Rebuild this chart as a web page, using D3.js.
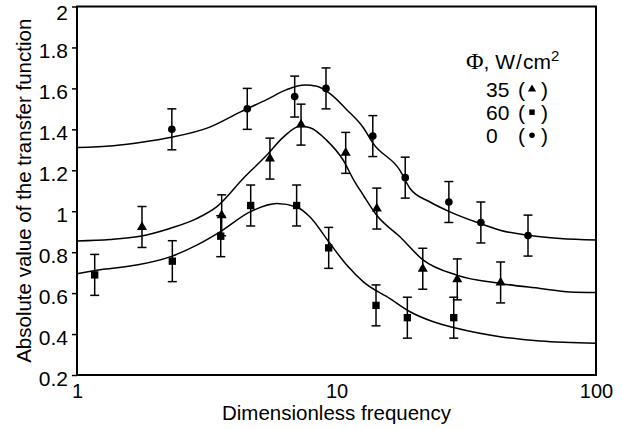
<!DOCTYPE html>
<html>
<head>
<meta charset="utf-8">
<script src="https://cdn.jsdelivr.net/npm/d3@7"></script>
<style>
  html, body { margin: 0; padding: 0; background: #fff; }
  svg { display: block; }
  text { font-family: "Liberation Sans", Arial, Helvetica, sans-serif; fill: #000; }
</style>
</head>
<body>
<svg id="chart" width="622" height="429"></svg>
<script>
// ---------- data ----------
const xTicks = [1, 10, 100];
const yTicks = [0.2, 0.4, 0.6, 0.8, 1, 1.2, 1.4, 1.6, 1.8, 2];
const xTickLabels = ["1", "10", "100"];
const yTickLabels = ["0.2", "0.4", "0.6", "0.8", "1", "1.2", "1.4", "1.6", "1.8", "2"];

// measured points (Φ = 0 W/cm², circles)
const circX = [2.32, 4.53, 6.9, 9.11, 13.8, 18.4, 27.1, 36.0, 54.7];
const circY = [1.40, 1.50, 1.56, 1.60, 1.367, 1.164, 1.045, 0.945, 0.881];
// Φ = 35 W/cm², triangles
const triX = [1.78, 3.61, 5.54, 7.3, 10.85, 14.3, 21.5, 29.2, 42.9];
const triY = [0.923, 0.98, 1.257, 1.423, 1.285, 1.013, 0.719, 0.667, 0.652];
// Φ = 60 W/cm², squares
const sqX = [1.17, 2.33, 3.58, 4.67, 7.02, 9.33, 14.2, 18.75, 28.3];
const sqY = [0.689, 0.756, 0.878, 1.028, 1.028, 0.821, 0.54, 0.48, 0.48];
// error half-width
const errHalf = 0.1;

// fitted curves
const circCurveX = [1, 1.38, 1.80, 2.28, 3.25, 4.25, 5.38, 6.43, 7.56, 8.39, 9.44, 10.95, 12.69, 13.86, 17.56, 19.2, 22.93, 27.37, 35.73, 42.67, 55.68, 72.66, 100];
const circCurveY = [1.311, 1.320, 1.338, 1.360, 1.411, 1.484, 1.545, 1.594, 1.616, 1.610, 1.574, 1.496, 1.408, 1.330, 1.200, 1.111, 1.045, 0.997, 0.940, 0.907, 0.881, 0.867, 0.859];
const triCurveX = [1, 1.34, 1.75, 2.28, 2.89, 3.45, 4.37, 5.38, 6.24, 7.23, 7.91, 9.17, 10.62, 11.61, 12.69, 14.29, 17.56, 21.6, 29.05, 42.67, 60.84, 79.4, 100];
const triCurveY = [0.855, 0.862, 0.878, 0.916, 0.964, 1.021, 1.160, 1.273, 1.362, 1.415, 1.408, 1.346, 1.249, 1.156, 1.078, 0.980, 0.875, 0.761, 0.688, 0.647, 0.623, 0.606, 0.603];
const sqCurveX = [1, 1.263, 1.698, 2.283, 2.893, 3.557, 4.642, 5.884, 7.024, 7.906, 9.441, 10.95, 12.69, 16.08, 19.2, 23.61, 29.05, 42.67, 60.84, 100];
const sqCurveY = [0.695, 0.716, 0.737, 0.777, 0.834, 0.899, 0.997, 1.038, 1.021, 0.972, 0.842, 0.737, 0.655, 0.573, 0.509, 0.460, 0.428, 0.387, 0.366, 0.355];

const legendTitle = "Φ, W/cm";
const legendLabels = ["35", "60", "0"];
const legendSymbols = ["triangle", "square", "circle"];

const xTitle = "Dimensionless frequency";
const yTitle = "Absolute value of the transfer function";

// ---------- drawing ----------
const svg = d3.select("#chart");
const L = 77, R = 596, T = 6.5, B = 375;
const x = d3.scaleLog().domain([1, 100]).range([L, R]);
const y = d3.scaleLinear().domain([0.2, 2]).range([B, T]);

// y axis ticks (outward)
const yAxis = d3.axisLeft(y).tickValues(yTicks).tickSize(5).tickPadding(4)
  .tickFormat((d, i) => yTickLabels[i]);
const gy = svg.append("g").attr("transform", `translate(${L},0)`).call(yAxis);
gy.select(".domain").remove();
gy.selectAll("line").attr("stroke", "#000").attr("stroke-width", 1.5);
gy.selectAll("text").attr("font-size", 21)
  .attr("dy", d => d === 2 ? "0.6em" : "0.48em")
  .style("font-family", '"Liberation Sans", Arial, sans-serif');

// x axis labels (no tick marks)
const xAxis = d3.axisBottom(x).tickValues(xTicks).tickSize(0).tickPadding(9)
  .tickFormat((d, i) => xTickLabels[i]);
const gx = svg.append("g").attr("transform", `translate(0,${B})`).call(xAxis);
gx.select(".domain").remove();
gx.selectAll("text").attr("font-size", 20)
  .style("font-family", '"Liberation Sans", Arial, sans-serif');

// frame
svg.append("rect").attr("x", L).attr("y", T).attr("width", R - L).attr("height", B - T)
  .attr("fill", "none").attr("stroke", "#000").attr("stroke-width", 2);

// curves
const line = d3.line().x(d => x(d[0])).y(d => y(d[1])).curve(d3.curveMonotoneX);
[[circCurveX, circCurveY], [triCurveX, triCurveY], [sqCurveX, sqCurveY]].forEach(([cx, cy]) => {
  svg.append("path").datum(cx.map((v, i) => [v, cy[i]]))
    .attr("d", line).attr("fill", "none").attr("stroke", "#000").attr("stroke-width", 1.5);
});

// error bars & markers
const series = [
  { xs: circX, ys: circY, sym: d3.symbolCircle, size: 46 },
  { xs: triX, ys: triY, sym: d3.symbolTriangle, size: 44 },
  { xs: sqX, ys: sqY, sym: d3.symbolSquare, size: 54 }
];
const cap = 4.5;
series.forEach(s => {
  const pts = s.xs.map((v, i) => [v, s.ys[i]]);
  const g = svg.append("g");
  pts.forEach(p => {
    const px = x(p[0]), yt = y(p[1] + errHalf), yb = y(p[1] - errHalf);
    g.append("line").attr("x1", px).attr("x2", px).attr("y1", yt).attr("y2", yb)
      .attr("stroke", "#000").attr("stroke-width", 1.5);
    g.append("line").attr("x1", px - cap).attr("x2", px + cap).attr("y1", yt).attr("y2", yt)
      .attr("stroke", "#000").attr("stroke-width", 1.5);
    g.append("line").attr("x1", px - cap).attr("x2", px + cap).attr("y1", yb).attr("y2", yb)
      .attr("stroke", "#000").attr("stroke-width", 1.5);
    g.append("path").attr("d", d3.symbol().type(s.sym).size(s.size)())
      .attr("transform", `translate(${px},${y(p[1])})`).attr("fill", "#000");
  });
});

// axis titles
svg.append("text").attr("x", (L + R) / 2).attr("y", 420).attr("text-anchor", "middle")
  .attr("font-size", 20.5).text(xTitle);
svg.append("text").attr("transform", `translate(31,${(T + B) / 2}) rotate(-90)`)
  .attr("text-anchor", "middle").attr("font-size", 20.5).text(yTitle);

// legend
const lt = svg.append("text").attr("x", 466).attr("y", 68.5).attr("font-size", 21);
lt.append("tspan").style("font-family", '"Liberation Serif", "Times New Roman", serif').attr("font-size", 24).text(legendTitle.slice(0, 1));
lt.append("tspan").text(legendTitle.slice(1, 4));
lt.append("tspan").attr("dx", 1).text("/");
lt.append("tspan").attr("dx", 1).text(legendTitle.slice(5));
lt.append("tspan").attr("dy", -8).attr("font-size", 15).text("2");

const symMap = { triangle: [d3.symbolTriangle, 30], square: [d3.symbolSquare, 30], circle: [d3.symbolCircle, 24] };
legendLabels.forEach((lab, i) => {
  const by = 96.7 + i * 23;
  svg.append("text").attr("x", 486).attr("y", by).attr("font-size", 21).text(lab);
  svg.append("text").attr("x", 518).attr("y", by).attr("font-size", 21).text("(");
  svg.append("text").attr("x", 541).attr("y", by).attr("font-size", 21).text(")");
  const [t, sz] = symMap[legendSymbols[i]];
  svg.append("path").attr("d", d3.symbol().type(t).size(sz)())
    .attr("transform", `translate(532,${by - 7.5})`).attr("fill", "#000");
});
</script>
</body>
</html>
